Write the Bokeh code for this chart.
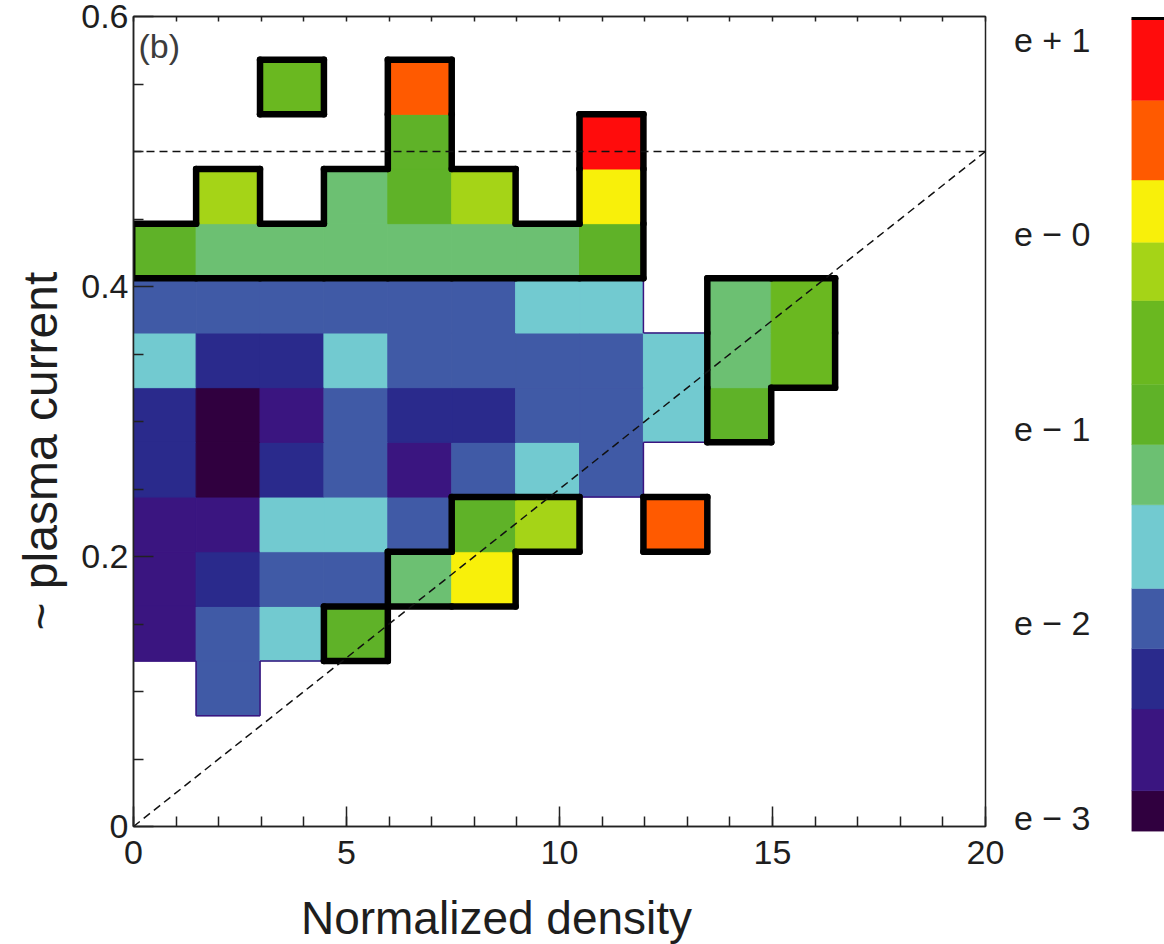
import numpy as np
from bokeh.plotting import figure
from bokeh.models import (Range1d, LinearAxis, SingleIntervalTicker, FixedTicker,
                          ColumnDataSource, Label, Title, CustomJSTickFormatter)
from bokeh.core.properties import value
from bokeh.layouts import row, column
from bokeh.embed import file_html
from bokeh.resources import INLINE

# ---------------- data ----------------
# bin centres
density_centers = [0.72, 2.22, 3.72, 5.22, 6.72, 8.22, 9.72, 11.22, 12.72, 14.22, 15.72]
current_centers = [0.1023, 0.1428, 0.1833, 0.2238, 0.2643, 0.3048, 0.3453, 0.3858,
                   0.4263, 0.4668, 0.5073, 0.5478]
cell_w = 1.5
cell_h = 0.0405

N = None
# log10 of the mapped quantity, rows from bottom to top
log_value = [
    [N, -1.98, N, N, N, N, N, N, N, N, N],
    [-2.65, -1.98, -1.60, -0.92, N, N, N, N, N, N, N],
    [-2.65, -2.29, -1.98, -1.98, -1.23, 0.12, N, N, N, N, N],
    [-2.65, -2.65, -1.60, -1.60, -1.98, -0.92, -0.19, N, 0.48, N, N],
    [-2.29, -2.96, -2.29, -1.98, -2.65, -1.98, -1.60, -1.98, N, N, N],
    [-2.29, -2.96, -2.65, -1.98, -2.29, -2.29, -1.98, -1.98, -1.60, -0.92, N],
    [-1.60, -2.29, -2.29, -1.60, -1.98, -1.98, -1.98, -1.98, -1.60, -1.23, -0.55],
    [-1.98, -1.98, -1.98, -1.98, -1.98, -1.98, -1.60, -1.60, N, -1.23, -0.55],
    [-0.92, -1.23, -1.23, -1.23, -1.23, -1.23, -1.23, -0.92, N, N, N],
    [N, -0.19, N, -1.23, -0.92, -0.19, N, 0.12, N, N, N],
    [N, N, N, N, -0.92, N, N, 0.90, N, N, N],
    [N, N, -0.55, N, 0.48, N, N, N, N, N, N],
]

# colour-bar levels (log10) and band colours
levels = [-3.07, -2.86, -2.44, -2.13, -1.82, -1.39, -1.08, -0.77, -0.34, -0.04, 0.28, 0.69, 1.11]
band_colors = ["#30003f", "#3a1580", "#2a2a8c", "#405aa6", "#72cad0", "#6cc072",
               "#5fb228", "#6ab820", "#a5d417", "#f8f00a", "#ff5a00", "#ff0c0c"]
outline_level = -1.39
cbar_ticks = [-3, -2, -1, 0, 1]
cbar_labels = ["e \u2212 3", "e \u2212 2", "e \u2212 1", "e \u2212 0", "e + 1"]

# axis ticks and titles
y_ticks = [0, 0.2, 0.4, 0.6]
y_minor_ticks = [0.05, 0.1, 0.15, 0.25, 0.3, 0.35, 0.45, 0.5, 0.55]
x_title = "Normalized density"
y_title = "~ plasma current"

# reference dashed lines
ref_x = [0, 20]
limit_y = [0.5, 0.5]
diag_y = [0.0, 0.5]

FONT = "Liberation Sans"
TXT = "#1e1e1e"

# ---------------- build cells ----------------
xs, ys, cols = [], [], []
nr, nc = len(current_centers), len(density_centers)
vals = np.full((nr, nc), np.nan)
for r in range(nr):
    for c in range(nc):
        v = log_value[r][c]
        if v is None:
            continue
        vals[r, c] = v
        b = int(np.clip(np.searchsorted(levels, v) - 1, 0, len(band_colors) - 1))
        xs.append(density_centers[c]); ys.append(current_centers[r]); cols.append(band_colors[b])
cells = ColumnDataSource(dict(x=xs, y=ys, color=cols))


def boundary(mask):
    x0, y0, x1, y1 = [], [], [], []
    for r in range(nr):
        for c in range(nc):
            if not mask[r, c]:
                continue
            xl = density_centers[c] - cell_w / 2; xr = density_centers[c] + cell_w / 2
            yb = current_centers[r] - cell_h / 2; yt = current_centers[r] + cell_h / 2
            if r == 0 or not mask[r - 1, c]:
                x0.append(xl); y0.append(yb); x1.append(xr); y1.append(yb)
            if r == nr - 1 or not mask[r + 1, c]:
                x0.append(xl); y0.append(yt); x1.append(xr); y1.append(yt)
            if c == 0 or not mask[r, c - 1]:
                x0.append(xl); y0.append(yb); x1.append(xl); y1.append(yt)
            if c == nc - 1 or not mask[r, c + 1]:
                x0.append(xr); y0.append(yb); x1.append(xr); y1.append(yt)
    return dict(x0=x0, y0=y0, x1=x1, y1=y1)


data_mask = ~np.isnan(vals)
hot_mask = np.where(data_mask, np.nan_to_num(vals, nan=-99) >= outline_level, False)

# ---------------- main figure ----------------
p = figure(width=1010, height=880, x_range=Range1d(0, 20), y_range=Range1d(0, 0.6),
           output_backend="svg", toolbar_location=None,
           min_border_left=130, min_border_right=25, min_border_top=16, min_border_bottom=54)
p.xgrid.visible = False
p.ygrid.visible = False
p.outline_line_color = "#222222"
p.outline_line_width = 1.5
p.background_fill_color = "white"
p.border_fill_color = "white"

p.rect(x="x", y="y", width=cell_w, height=cell_h, source=cells,
       fill_color="color", line_color="color", line_width=1)
p.segment(x0="x0", y0="y0", x1="x1", y1="y1", source=ColumnDataSource(boundary(data_mask)),
          line_color="#3a1580", line_width=1.5)
p.segment(x0="x0", y0="y0", x1="x1", y1="y1", source=ColumnDataSource(boundary(hot_mask)),
          line_color="black", line_width=6.5, line_cap="round")
p.line(ref_x, limit_y, line_color="#111111", line_width=1.5, line_dash="8 5")
p.line(ref_x, diag_y, line_color="#111111", line_width=1.5, line_dash="8 5")

for ax in (p.xaxis[0], p.yaxis[0]):
    ax.axis_line_color = "#222222"
    ax.axis_line_width = 1.5
    ax.major_tick_line_color = "#222222"
    ax.minor_tick_line_color = "#222222"
    ax.major_tick_line_width = 1.5
    ax.minor_tick_line_width = 1.5
    ax.major_tick_in = 20
    ax.major_tick_out = 0
    ax.minor_tick_in = 10
    ax.minor_tick_out = 0
    ax.major_label_text_font = FONT
    ax.major_label_text_font_size = "34px"
    ax.major_label_text_color = TXT

p.xaxis[0].ticker = SingleIntervalTicker(interval=5, num_minor_ticks=5)
p.yaxis[0].ticker = FixedTicker(ticks=y_ticks, minor_ticks=y_minor_ticks)
p.xaxis[0].major_label_standoff = 14
p.yaxis[0].major_label_standoff = 5

top_axis = LinearAxis(ticker=SingleIntervalTicker(interval=1, num_minor_ticks=0),
                      formatter=CustomJSTickFormatter(code="return ''"),
                      major_label_text_font_size="1px", major_label_standoff=0,
                      major_tick_in=5, major_tick_out=0, minor_tick_in=0, minor_tick_out=0,
                      axis_line_color="#222222", axis_line_width=1.5,
                      major_tick_line_color="#222222", major_tick_line_width=1.5)
p.add_layout(top_axis, "above")

p.add_layout(Title(text=y_title, align="left", offset=196, standoff=23,
                   vertical_align="bottom", text_font=FONT, text_font_size="48px",
                   text_font_style="normal", text_color=TXT), "left")

p.add_layout(Label(x=0.117, y=0.592, text="(b)", text_baseline="top", text_align="left",
                   text_font=FONT, text_font_size="34px", text_color="#3c3c3c"))

# ---------------- x-axis title strip ----------------
xt = figure(width=1010, height=64, x_range=p.x_range, y_range=Range1d(0, 1),
            output_backend="svg", toolbar_location=None,
            min_border_left=130, min_border_right=25, min_border_top=0, min_border_bottom=0)
xt.axis.visible = False
xt.xgrid.visible = False
xt.ygrid.visible = False
xt.outline_line_color = None
xt.text(x=[3.93], y=[0.42], text=[x_title], text_align="left", text_baseline="alphabetic",
        text_font=value(FONT), text_font_size=value("46px"), text_color=TXT)

# ---------------- colour bar ----------------
cb = figure(width=154, height=944, x_range=Range1d(0, 1), y_range=Range1d(levels[0], levels[-1]),
            output_backend="svg", toolbar_location=None,
            min_border_left=118, min_border_right=0, min_border_top=18, min_border_bottom=113)
cb.xgrid.visible = False
cb.ygrid.visible = False
cb.xaxis.visible = False
cb.outline_line_color = None
cb.quad(left=0, right=1, bottom=levels[:-1], top=levels[1:], fill_color=band_colors,
        line_color=band_colors, line_width=0.5)
ya = cb.yaxis[0]
ya.ticker = FixedTicker(ticks=cbar_ticks)
ya.major_label_overrides = {t: l for t, l in zip(cbar_ticks, cbar_labels)}
ya.axis_line_color = None
ya.major_tick_line_color = None
ya.minor_tick_line_color = None
ya.major_tick_in = 0
ya.major_tick_out = 0
ya.major_label_standoff = 41
ya.major_label_text_font = FONT
ya.major_label_text_font_size = "34px"
ya.major_label_text_color = TXT
cb.add_layout(LinearAxis(ticker=FixedTicker(ticks=[]), major_label_text_font_size="0px",
                         major_label_standoff=0, major_tick_out=0, minor_tick_out=0,
                         axis_line_color="black", axis_line_width=3), "above")

layout = row(column(p, xt), cb)
open("out.html", "w").write(file_html(layout, INLINE))
